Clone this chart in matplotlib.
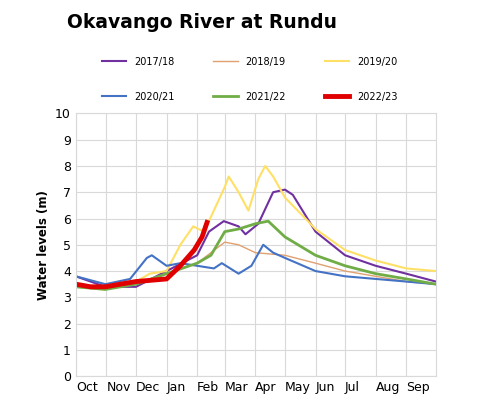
import matplotlib as mpl
mpl.use('Agg')
import matplotlib.pyplot as plt

# days since 1 Oct, water level (m)
d_1718 = [0, 30, 61, 92, 123, 135, 150, 165, 172, 185, 200, 212, 220, 243, 273, 304, 335, 365]
v_1718 = [3.8, 3.4, 3.4, 4.0, 4.6, 5.5, 5.9, 5.7, 5.4, 5.8, 7.0, 7.1, 6.9, 5.5, 4.6, 4.2, 3.9, 3.6]
d_1819 = [0, 30, 61, 92, 123, 151, 165, 182, 212, 243, 273, 304, 335, 365]
v_1819 = [3.5, 3.4, 3.5, 3.9, 4.3, 5.1, 5.0, 4.7, 4.6, 4.3, 4.0, 3.8, 3.6, 3.5]
d_1920 = [0, 30, 61, 75, 92, 106, 119, 130, 151, 155, 165, 175, 185, 192, 200, 212, 243, 273, 304, 335, 365]
v_1920 = [3.4, 3.3, 3.6, 3.9, 4.0, 5.0, 5.7, 5.5, 7.2, 7.6, 7.0, 6.3, 7.5, 8.0, 7.6, 6.8, 5.6, 4.8, 4.4, 4.1, 4.0]
d_2021 = [0, 30, 55, 72, 77, 92, 106, 123, 140, 148, 165, 178, 190, 200, 212, 243, 273, 304, 335, 365]
v_2021 = [3.8, 3.5, 3.7, 4.5, 4.6, 4.2, 4.3, 4.2, 4.1, 4.3, 3.9, 4.2, 5.0, 4.7, 4.5, 4.0, 3.8, 3.7, 3.6, 3.5]
d_2122 = [0, 30, 61, 92, 123, 137, 151, 165, 182, 195, 212, 243, 273, 304, 335, 365]
v_2122 = [3.4, 3.3, 3.5, 3.9, 4.3, 4.6, 5.5, 5.6, 5.8, 5.9, 5.3, 4.6, 4.2, 3.9, 3.7, 3.5]
d_2223 = [0, 15, 30, 45, 61, 92, 106, 120, 128, 133]
v_2223 = [3.5, 3.4, 3.4, 3.5, 3.6, 3.7, 4.2, 4.8, 5.3, 5.85]

months = ['Oct', 'Nov', 'Dec', 'Jan', 'Feb', 'Mar', 'Apr', 'May', 'Jun', 'Jul', 'Aug', 'Sep']
month_start = [0, 31, 61, 92, 123, 151, 182, 212, 243, 273, 304, 335]

fig = plt.figure(figsize=(4.8, 4.17), dpi=100)
ax = fig.add_axes([0.158, 0.098, 0.75, 0.63])

l1, = ax.plot(d_1718, v_1718, color='#7030a0', lw=1.5, label='2017/18')
l2, = ax.plot(d_1819, v_1819, color='#e0a070', lw=1.0, label='2018/19')
l3, = ax.plot(d_1920, v_1920, color='#ffe066', lw=1.5, label='2019/20')
l4, = ax.plot(d_2021, v_2021, color='#4472c4', lw=1.5, label='2020/21')
l5, = ax.plot(d_2122, v_2122, color='#70ad47', lw=2.0, label='2021/22')
l6, = ax.plot(d_2223, v_2223, color='#e00000', lw=3.5, label='2022/23')

ax.set_xlim(0, 365)
ax.set_ylim(0, 10)
ax.set_yticks(range(11))
ax.set_xticks(month_start)
ax.set_xticklabels(months, ha='left')
ax.tick_params(labelsize=9, length=0)
ax.grid(True, color='#d9d9d9', lw=0.8)
for s in ax.spines.values():
    s.set_color('#d9d9d9')
ax.set_ylabel('Water levels (m)', fontsize=8.5, fontweight='bold')

fig.text(0.42, 0.947, 'Okavango River at Rundu', ha='center', va='center',
         fontsize=13.5, fontweight='bold')
# legend fills by column, so order handles to read row-wise
hs = [l1, l4, l2, l5, l3, l6]
fig.legend(hs, [h.get_label() for h in hs], loc='center',
           bbox_to_anchor=(0.52, 0.81), ncol=3, frameon=False,
           fontsize=7, handlelength=2.5, columnspacing=4.0, labelspacing=2.6)

plt.savefig('out.png')
